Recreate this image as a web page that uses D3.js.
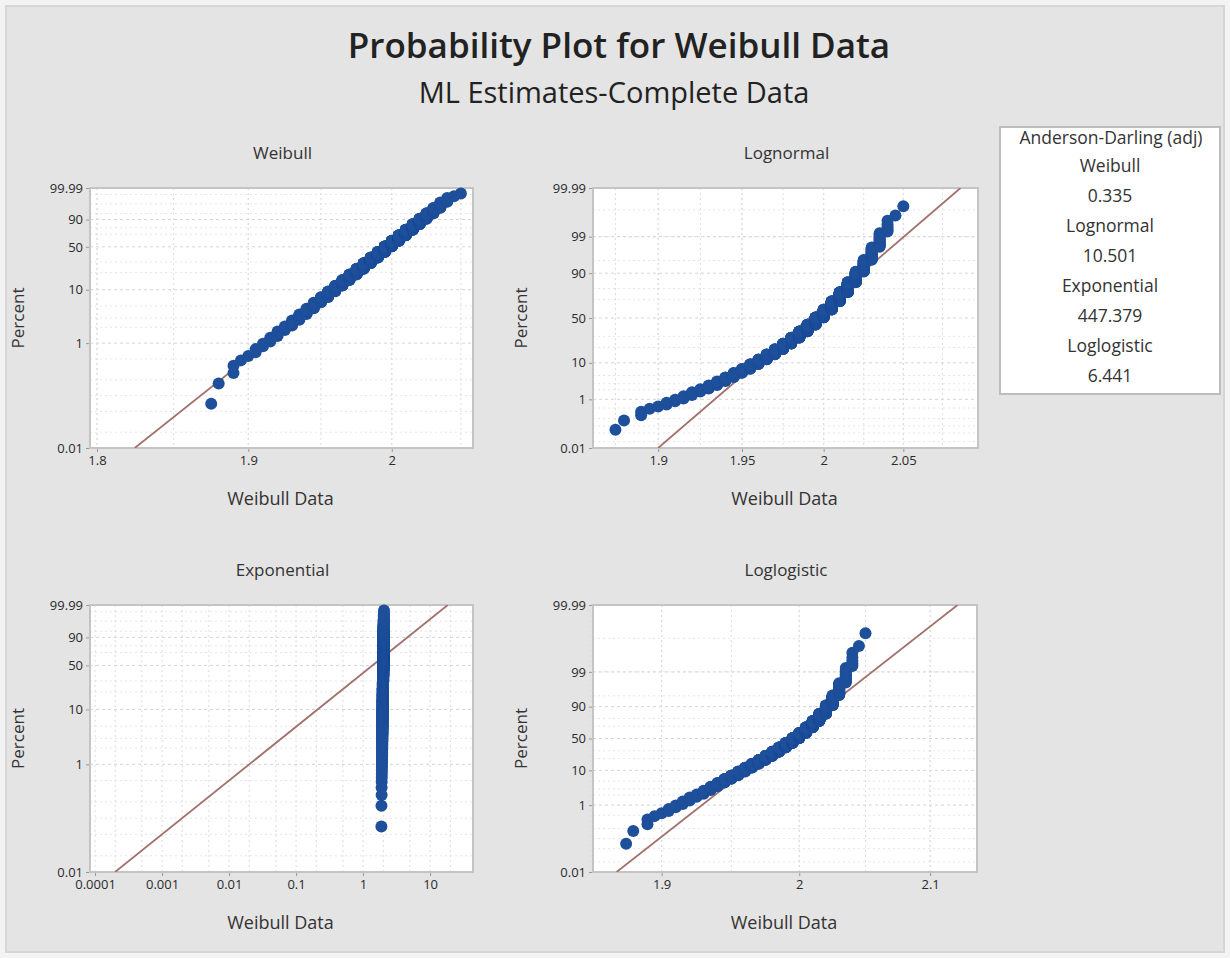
<!DOCTYPE html>
<html>
<head>
<meta charset="utf-8">
<script src="https://cdn.jsdelivr.net/npm/d3@7"></script>
<style>
    body { margin: 0; background: #f3f3f3; }
    svg text { font-family: "Open Sans", "Noto Sans", sans-serif; fill: #333; }
</style>
</head>
<body>
<div id="chart"></div>
<script>
// Weibull Data (values to 0.005 and how many times each occurs)
const dataValues = [1.875, 1.88, 1.89, 1.895, 1.90, 1.905, 1.91, 1.915, 1.92, 1.925, 1.93, 1.935,
    1.94, 1.945, 1.95, 1.955, 1.96, 1.965, 1.97, 1.975, 1.98, 1.985, 1.99, 1.995, 2.00, 2.005,
    2.01, 2.015, 2.02, 2.025, 2.03, 2.035, 2.04, 2.045, 2.05];
const dataCounts = [1, 1, 2, 1, 1, 2, 2, 3, 4, 4, 6, 8,
    10, 13, 15, 20, 25, 31, 37, 46, 55, 64, 74, 82, 88, 89,
    86, 77, 61, 44, 27, 14, 5, 1, 1];

// fitted parameters (ML)
const weibullShape = 97.8, weibullScale = 2.0046;
const lognormalLoc = 0.6887, lognormalScale = 0.0126;
const exponentialMean = 1.99;
const loglogisticLoc = 0.6886, loglogisticScale = 0.0069;

// Anderson-Darling table
const adNames = ['Weibull', 'Lognormal', 'Exponential', 'Loglogistic'];
const adValues = ['0.335', '10.501', '447.379', '6.441'];

// tick labels
const percentTicksWeibull = [0.01, 1, 10, 50, 90, 99.99];
const percentTicksOther = [0.01, 1, 10, 50, 90, 99, 99.99];
const percentGrid = [0.02, 0.05, 0.1, 0.2, 0.5, 2, 3, 5, 20, 30, 70, 80, 95, 99, 99.9];
const weibullXTicks = [1.8, 1.9, 2];
const lognormalXTicks = [1.9, 1.95, 2, 2.05];
const exponentialXTicks = [0.0001, 0.001, 0.01, 0.1, 1, 10];
const loglogisticXTicks = [1.9, 2, 2.1];

const W = 1230, H = 958;

function normInv(p) {
    const a = [-3.969683028665376e+01, 2.209460984245205e+02, -2.759285104469687e+02, 1.383577518672690e+02, -3.066479806614716e+01, 2.506628277459239e+00];
    const b = [-5.447609879822406e+01, 1.615858368580409e+02, -1.556989798598866e+02, 6.680131188771972e+01, -1.328068155288572e+01];
    const c = [-7.784894002430293e-03, -3.223964580411365e-01, -2.400758277161838e+00, -2.549732539343734e+00, 4.374664141464968e+00, 2.938163982698783e+00];
    const d = [7.784695709041462e-03, 3.224671290700398e-01, 2.445134137142996e+00, 3.754408661907416e+00];
    const pl = 0.02425;
    if (p < pl) {
        const q = Math.sqrt(-2 * Math.log(p));
        return (((((c[0] * q + c[1]) * q + c[2]) * q + c[3]) * q + c[4]) * q + c[5]) / ((((d[0] * q + d[1]) * q + d[2]) * q + d[3]) * q + 1);
    }
    if (p > 1 - pl) {
        const q = Math.sqrt(-2 * Math.log(1 - p));
        return -(((((c[0] * q + c[1]) * q + c[2]) * q + c[3]) * q + c[4]) * q + c[5]) / ((((d[0] * q + d[1]) * q + d[2]) * q + d[3]) * q + 1);
    }
    const q = p - 0.5, r = q * q;
    return (((((a[0] * r + a[1]) * r + a[2]) * r + a[3]) * r + a[4]) * r + a[5]) * q / (((((b[0] * r + b[1]) * r + b[2]) * r + b[3]) * r + b[4]) * r + 1);
}

const sev = p => Math.log(-Math.log(1 - p));
const logit = p => Math.log(p / (1 - p));

// order statistics with median rank plotting positions
const n = d3.sum(dataCounts);
const points = [];
dataValues.forEach((v, k) => {
    for (let j = 0; j < dataCounts[k]; j++) {
        const i = points.length + 1;
        points.push({ value: v, p: (i - 0.3) / (n + 0.4) });
    }
});

function gridSteps(step, lo, hi) {
    const out = [];
    for (let v = Math.ceil(lo / step - 1e-9) * step; v <= hi + 1e-9; v += step) out.push(+v.toFixed(4));
    return out;
}

const panels = [
    {
        title: 'Weibull', frame: { x: 90, y: 188, w: 383, h: 260 },
        xDomain: [1.7955, 2.0589], xTicks: weibullXTicks, xGrid: gridSteps(0.05, 1.8, 2.05),
        yTicks: percentTicksWeibull, tr: sev,
        fit: p => weibullScale * Math.pow(-Math.log(1 - p), 1 / weibullShape)
    },
    {
        title: 'Lognormal', frame: { x: 593, y: 188, w: 385, h: 260 },
        xDomain: [1.862, 2.098], xTicks: lognormalXTicks, xGrid: gridSteps(0.025, 1.875, 2.075),
        yTicks: percentTicksOther, tr: normInv,
        fit: p => Math.exp(lognormalLoc + lognormalScale * normInv(p))
    },
    {
        title: 'Exponential', frame: { x: 90, y: 605, w: 383, h: 267 },
        xDomain: [Math.pow(10, -4.075), Math.pow(10, 1.64)], xTicks: exponentialXTicks,
        xGrid: [0.0002, 0.0005, 0.002, 0.005, 0.02, 0.05, 0.2, 0.5, 2, 5, 20],
        yTicks: percentTicksWeibull, tr: sev,
        fit: p => exponentialMean * (-Math.log(1 - p))
    },
    {
        title: 'Loglogistic', frame: { x: 593, y: 605, w: 384, h: 267 },
        xDomain: [1.852, 2.137], xTicks: loglogisticXTicks, xGrid: gridSteps(0.05, 1.85, 2.1),
        yTicks: percentTicksOther, tr: logit,
        fit: p => Math.exp(loglogisticLoc + loglogisticScale * logit(p))
    }
];

const svg = d3.select('#chart').append('svg')
    .attr('width', W).attr('height', H);

svg.append('rect')
    .attr('x', 6).attr('y', 6).attr('width', 1218).attr('height', 946)
    .attr('fill', '#e4e4e4').attr('stroke', '#d6d6d6').attr('stroke-width', 2);

svg.append('text')
    .attr('x', 619).attr('y', 58)
    .attr('text-anchor', 'middle')
    .attr('font-size', 35).attr('font-weight', 600)
    .style('fill', '#222')
    .text('Probability Plot for Weibull Data');

svg.append('text')
    .attr('x', 614).attr('y', 103)
    .attr('text-anchor', 'middle')
    .attr('font-size', 29)
    .style('fill', '#222')
    .text('ML Estimates-Complete Data');

const fmtPct = d => d === 99.99 ? '99.99' : d === 0.01 ? '0.01' : String(d);
const fmtX = d => d < 1 ? String(+d.toPrecision(1)) : String(d);

panels.forEach((pn, idx) => {
    const f = pn.frame;
    const g = svg.append('g');
    const x = d3.scaleLog().domain(pn.xDomain).range([f.x, f.x + f.w]);
    const y = d3.scaleLinear().domain([pn.tr(0.0001), pn.tr(0.9999)]).range([f.y + f.h, f.y]);
    const yp = pct => y(pn.tr(pct / 100));

    g.append('rect')
        .attr('x', f.x).attr('y', f.y).attr('width', f.w).attr('height', f.h)
        .attr('fill', '#fff');

    const clipId = 'clip' + idx;
    g.append('clipPath').attr('id', clipId)
        .append('rect').attr('x', f.x).attr('y', f.y).attr('width', f.w).attr('height', f.h);

    // gridlines
    g.selectAll('.gy-minor').data(percentGrid).enter().append('line')
        .attr('x1', f.x).attr('x2', f.x + f.w)
        .attr('y1', d => yp(d)).attr('y2', d => yp(d))
        .attr('stroke', '#e6e6e6').attr('stroke-dasharray', '2,3');
    g.selectAll('.gy').data(pn.yTicks.filter(d => d > 0.01 && d < 99.99)).enter().append('line')
        .attr('x1', f.x).attr('x2', f.x + f.w)
        .attr('y1', d => yp(d)).attr('y2', d => yp(d))
        .attr('stroke', '#d4d4d4').attr('stroke-dasharray', '3,3');
    g.selectAll('.gx').data(pn.xGrid.concat(pn.xTicks)).enter().append('line')
        .attr('x1', d => x(d)).attr('x2', d => x(d))
        .attr('y1', f.y).attr('y2', f.y + f.h)
        .attr('stroke', '#dcdcdc').attr('stroke-dasharray', '2,3');

    // axes
    const xAxis = g.append('g')
        .attr('transform', `translate(0,${f.y + f.h})`)
        .call(d3.axisBottom(x).tickValues(pn.xTicks).tickFormat(fmtX).tickSize(4).tickPadding(4));
    const yAxis = g.append('g')
        .attr('transform', `translate(${f.x},0)`)
        .call(d3.axisLeft(y).tickValues(pn.yTicks.map(d => pn.tr(d / 100)))
            .tickFormat((d, i) => fmtPct(pn.yTicks[i])).tickSize(4).tickPadding(3));
    [xAxis, yAxis].forEach(a => {
        a.select('.domain').remove();
        a.selectAll('line').attr('stroke', '#999');
        a.selectAll('text').attr('font-size', 13).style('fill', '#2a2a2a');
    });

    g.append('rect')
        .attr('x', f.x).attr('y', f.y).attr('width', f.w).attr('height', f.h)
        .attr('fill', 'none').attr('stroke', '#c4c4c4').attr('stroke-width', 2);

    // fitted line
    g.append('line')
        .attr('clip-path', `url(#${clipId})`)
        .attr('x1', x(pn.fit(0.0001))).attr('y1', y(pn.tr(0.0001)))
        .attr('x2', x(pn.fit(0.9999))).attr('y2', y(pn.tr(0.9999)))
        .attr('stroke', '#a2716d').attr('stroke-width', 1.8);

    // data points
    g.selectAll('.dot').data(points).enter().append('circle')
        .attr('cx', d => x(d.value))
        .attr('cy', d => y(pn.tr(d.p)))
        .attr('r', 6)
        .attr('fill', '#1e4f9a');

    // labels
    const cx = f.x + f.w / 2;
    g.append('text')
        .attr('x', cx + 1).attr('y', f.y - 29)
        .attr('text-anchor', 'middle').attr('font-size', 17)
        .text(pn.title);
    g.append('text')
        .attr('x', cx - 1).attr('y', f.y + f.h + 57)
        .attr('text-anchor', 'middle').attr('font-size', 18)
        .text('Weibull Data');
    g.append('text')
        .attr('transform', `translate(${f.x - 66},${f.y + f.h / 2}) rotate(-90)`)
        .attr('text-anchor', 'middle').attr('font-size', 17)
        .text('Percent');
});

// Anderson-Darling box
const box = svg.append('g');
box.append('rect')
    .attr('x', 1000).attr('y', 127).attr('width', 220).attr('height', 267)
    .attr('fill', '#fff').attr('stroke', '#bdbdbd').attr('stroke-width', 2);
box.append('text')
    .attr('x', 1111).attr('y', 144)
    .attr('text-anchor', 'middle').attr('font-size', 17.5)
    .text('Anderson-Darling (adj)');
adNames.forEach((name, i) => {
    box.append('text')
        .attr('x', 1110).attr('y', 172 + i * 60)
        .attr('text-anchor', 'middle').attr('font-size', 17.5)
        .text(name);
    box.append('text')
        .attr('x', 1110).attr('y', 202 + i * 60)
        .attr('text-anchor', 'middle').attr('font-size', 17.5)
        .text(adValues[i]);
});
</script>
</body>
</html>
